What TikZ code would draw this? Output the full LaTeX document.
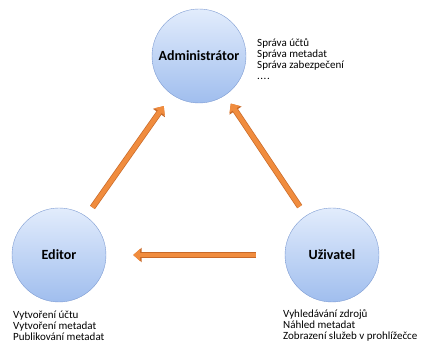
\documentclass[tikz,border=0pt]{standalone}
\usepackage{fontspec}
\setmainfont{Carlito}
\usetikzlibrary{arrows.meta}
\definecolor{roleTop}{RGB}{226,236,252}
\definecolor{roleBot}{RGB}{160,190,238}
\definecolor{roleLine}{RGB}{125,155,210}
\definecolor{arrFill}{RGB}{240,140,62}
\definecolor{arrLine}{RGB}{200,105,40}
\begin{document}
\begin{tikzpicture}[x=1pt,y=-1pt,
    role/.style={circle,draw=roleLine,top color=roleTop,bottom color=roleBot,
      minimum size=94pt,inner sep=0pt,font=\fontsize{14}{16}\selectfont\bfseries},
    duty/.style={anchor=base west,inner sep=0pt,font=\fontsize{11}{12}\selectfont},
    flow/.style={draw=arrFill,line width=4.6pt,-{Triangle[length=7pt,width=12pt]},
      preaction={draw=arrLine,line width=6pt,-{Triangle[length=8.5pt,width=14pt]}}}]
  \useasboundingbox (0,0) rectangle (421,358);
  % roles
  \node[role] (adm) at (199,56) {Administrátor};
  \node[role] (edi) at (59,255) {Editor};
  \node[role] (uzi) at (332,255) {Uživatel};
  % what each role does
  \foreach[count=\i,evaluate={35.8+11*\i} as \y] \t in {Správa účtů,Správa metadat,Správa zabezpečení} {
    \node[duty] (adm\i) at (257,\y) {\t};
  }
  \node[duty] (adm4) at (257,79.8) {.\kern0.5pt.\kern0.5pt.\kern0.5pt.};
  \foreach[count=\i,evaluate={307.3+11*\i} as \y] \t in {Vytvoření účtu,Vytvoření metadat,Publikování metadat} {
    \node[duty] (edi\i) at (13,\y) {\t};
  }
  \foreach[count=\i,evaluate={306.3+11*\i} as \y] \t in {Vyhledávání zdrojů,Náhled metadat,Zobrazení služeb v prohlížečce} {
    \node[duty] (uzi\i) at (283,\y) {\t};
  }
  % arrows
  \draw[flow,shorten <=11pt,shorten >=14pt] (edi) -- (adm);
  \draw[flow,shorten <=11pt,shorten >=10pt] (uzi) -- (adm);
  \draw[flow,shorten <=29pt,shorten >=27pt] (uzi) -- (edi);
\end{tikzpicture}
\end{document}
